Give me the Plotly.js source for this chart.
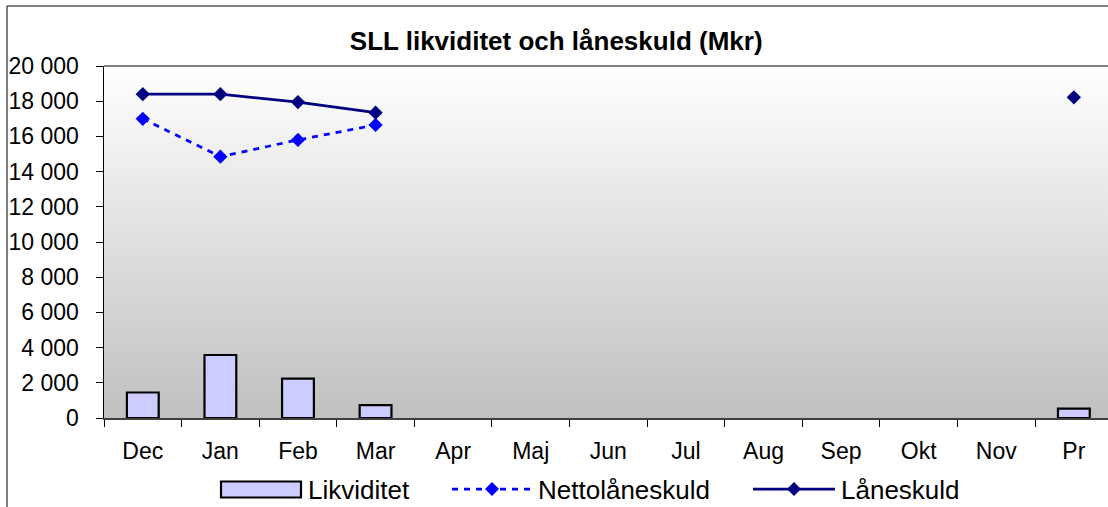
<!DOCTYPE html>
<html>
<head>
<meta charset="utf-8">
<script src="https://cdn.plot.ly/plotly-3.0.1.min.js"></script>
<style>
html,body{margin:0;padding:0;background:#fff;overflow:hidden;}
#chart{width:1108px;height:507px;}
</style>
</head>
<body>
<div id="chart"></div>
<script>
// ---- data ----
const months = ['Dec','Jan','Feb','Mar','Apr','Maj','Jun','Jul','Aug','Sep','Okt','Nov','Pr'];
const likviditet = [1450, 3580, 2240, 730, null, null, null, null, null, null, null, null, 530];
const nettolaneskuld = [17000, 14850, 15800, 16650, null, null, null, null, null, null, null, null, null];
const laneskuld = [18400, 18400, 17950, 17350, null, null, null, null, null, null, null, null, 18220];
const yTickVals = [0, 2000, 4000, 6000, 8000, 10000, 12000, 14000, 16000, 18000, 20000];
const yTickText = ['0', '2 000', '4 000', '6 000', '8 000', '10 000', '12 000', '14 000', '16 000', '18 000', '20 000'];
const seriesNames = ['Likviditet', 'Nettolåneskuld', 'Låneskuld'];
const chartTitle = 'SLL likviditet och låneskuld (Mkr)';

// ---- geometry ----
const W = 1108, H = 507;
const M = {l: 104, r: 0, t: 66, b: 89};
const PW = W - M.l - M.r, PH = H - M.t - M.b;
const px = x => (x - M.l) / PW;
const py = y => (H - M.b - y) / PH;
const FONT = 'Liberation Sans, Arial, sans-serif';

const grad = 'data:image/svg+xml;utf8,' + encodeURIComponent(
  '<svg xmlns="http://www.w3.org/2000/svg" width="100" height="100" preserveAspectRatio="none">' +
  '<defs><linearGradient id="g" x1="0" y1="0" x2="0" y2="1">' +
  '<stop offset="0" stop-color="#ffffff"/><stop offset="1" stop-color="#c0c0c0"/>' +
  '</linearGradient></defs><rect width="100" height="100" fill="url(#g)"/></svg>');

const traces = [
  {type: 'bar', x: months, y: likviditet, name: seriesNames[0], width: 0.41,
   marker: {color: '#ccccff', line: {color: '#000000', width: 2.2}}, hoverinfo: 'x+y'},
  {type: 'scatter', mode: 'lines+markers', x: months, y: nettolaneskuld, name: seriesNames[1],
   line: {color: '#0000ff', width: 2.75, dash: '6px,6px'},
   marker: {symbol: 'diamond', size: 11, color: '#0000ff'}, connectgaps: false},
  {type: 'scatter', mode: 'lines+markers', x: months, y: laneskuld, name: seriesNames[2],
   line: {color: '#000080', width: 2.75},
   marker: {symbol: 'diamond', size: 11, color: '#000080'}, connectgaps: false}
];

function diamond(cx, cy, r, color) {
  return {type: 'path', xref: 'paper', yref: 'paper', layer: 'above',
    xsizemode: 'pixel', ysizemode: 'pixel', xanchor: px(cx), yanchor: py(cy),
    path: `M ${-r} 0 L 0 ${r} L ${r} 0 L 0 ${-r} Z`,
    fillcolor: color, line: {color: color, width: 0}};
}

const shapes = [
  // outer chart border
  {type: 'rect', xref: 'paper', yref: 'paper', x0: px(7), x1: px(1130), y0: py(6), y1: py(530),
   line: {color: '#000000', width: 1}, fillcolor: 'rgba(0,0,0,0)', layer: 'above'},
  // top border of plot area
  {type: 'line', xref: 'paper', yref: 'paper', x0: 0, x1: 1, y0: 1, y1: 1,
   line: {color: '#808080', width: 2}, layer: 'above'},
  // legend: Likviditet
  {type: 'rect', xref: 'paper', yref: 'paper', x0: px(221), x1: px(301), y0: py(481.5), y1: py(497.5),
   fillcolor: '#ccccff', line: {color: '#000000', width: 2.2}},
  // legend: Nettolåneskuld
  {type: 'line', xref: 'paper', yref: 'paper', x0: px(452), x1: px(533), y0: py(489), y1: py(489),
   line: {color: '#0000ff', width: 2.75, dash: '6px,6px'}},
  diamond(492, 489, 7, '#0000ff'),
  // legend: Låneskuld
  {type: 'line', xref: 'paper', yref: 'paper', x0: px(753), x1: px(835), y0: py(489), y1: py(489),
   line: {color: '#000080', width: 2.75}},
  diamond(794, 489, 7, '#000080')
];

const legendFont = {family: FONT, size: 26, color: '#000000'};
const annotations = [
  {text: seriesNames[0], xref: 'paper', yref: 'paper', x: px(306), y: py(490), xanchor: 'left', yanchor: 'middle', showarrow: false, font: legendFont},
  {text: seriesNames[1], xref: 'paper', yref: 'paper', x: px(536), y: py(490), xanchor: 'left', yanchor: 'middle', showarrow: false, font: legendFont},
  {text: seriesNames[2], xref: 'paper', yref: 'paper', x: px(839), y: py(490), xanchor: 'left', yanchor: 'middle', showarrow: false, font: legendFont}
];

const layout = {
  width: W, height: H,
  margin: M,
  paper_bgcolor: '#ffffff',
  plot_bgcolor: 'rgba(0,0,0,0)',
  showlegend: false,
  title: {text: '<b>' + chartTitle + '</b>', x: 0.502, xref: 'container', xanchor: 'center',
          y: 1 - 41 / H, yref: 'container', yanchor: 'middle',
          font: {family: FONT, size: 26, color: '#000000'}},
  xaxis: {type: 'category', categoryorder: 'array', categoryarray: months,
          range: [-0.5, 12.44], fixedrange: true,
          showgrid: false, zeroline: false,
          showline: true, linecolor: '#404040', linewidth: 2,
          ticks: 'outside', tickson: 'boundaries', ticklen: 7, tickwidth: 1, tickcolor: '#000000',
          ticklabelstandoff: 11,
          tickfont: {family: FONT, size: 23, color: '#000000'}, automargin: false},
  yaxis: {range: [0, 20000], tickmode: 'array', tickvals: yTickVals, ticktext: yTickText,
          showgrid: false, zeroline: false, fixedrange: true,
          showline: true, linecolor: '#000000', linewidth: 1.5,
          ticks: 'outside', ticklen: 7, tickwidth: 1, tickcolor: '#000000',
          ticklabelstandoff: 12,
          tickfont: {family: FONT, size: 23, color: '#000000'}, automargin: false},
  images: [{source: grad, xref: 'paper', yref: 'paper', x: 0, y: 1, sizex: 1, sizey: 1,
            xanchor: 'left', yanchor: 'top', sizing: 'stretch', layer: 'below'}],
  shapes: shapes,
  annotations: annotations,
  bargap: 0.59
};

Plotly.newPlot('chart', traces, layout, {displayModeBar: false, staticPlot: true});
</script>
</body>
</html>
